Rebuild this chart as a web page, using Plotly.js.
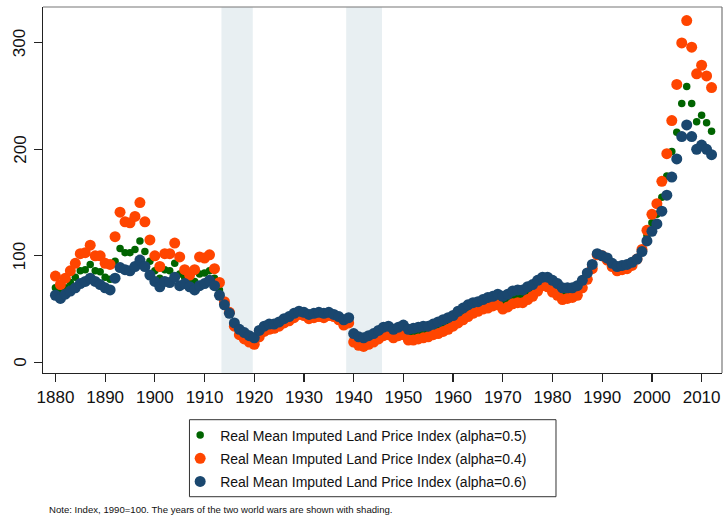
<!DOCTYPE html>
<html>
<head>
<meta charset="utf-8">
<script src="https://cdn.plot.ly/plotly-3.0.1.min.js"></script>
<style>html,body{margin:0;padding:0;background:#fff;}#chart{width:725px;height:520px;}</style>
</head>
<body>
<div id="chart"></div>
<script>
var firstYear = 1880;
var lastYear = 2012;
var years = [];
for (var yr = firstYear; yr <= lastYear; yr++) years.push(yr);

var seriesNames = [
  "Real Mean Imputed Land Price Index (alpha=0.5)",
  "Real Mean Imputed Land Price Index (alpha=0.4)",
  "Real Mean Imputed Land Price Index (alpha=0.6)"
];

// alpha = 0.5 (green)
var alpha05 = [
  70,66,70,75,80,86,87,92,86,85, 80,78,95,107,103,103,106,114,104,95,
  86,79,87,86,93,83,80,76,76,83, 84,86,79,68,56,46,36,29,25,22,
  20,27,31,33,34,36,39,41,44,47, 46,43,44,45,44,45,44,41,38,40,
  23,20,19,21,23,26,29,30,27,29, 30,26,26,27,28,29,31,32,35,37,
  39,43,46,49,51,53,55,56,58,59, 56,58,61,62,62,65,68,72,76,76,
  72,69,65,65,66,68,74,81,90,102, 100,97,92,88,89,90,93,97,105,119,
  131,139,155,175,198,216,243,259,243,226, 232,225,217
];

// alpha = 0.4 (orange)
var alpha04 = [
  81,73,79,86,93,102,103,110,100,100, 93,92,118,141,132,131,137,150,132,115,
  100,90,102,102,112,99,87,82,87,99, 98,101,88,75,57,47,34,26,22,19,
  17,24,29,31,32,34,37,39,42,45, 44,41,42,43,42,44,43,40,35,37,
  19,16,15,17,19,22,25,26,23,25, 26,21,21,22,23,24,26,27,29,31,
  34,37,40,43,46,48,50,51,53,54, 50,52,55,56,56,59,62,67,72,71,
  66,63,59,60,61,63,70,78,88,101, 100,96,90,86,87,88,91,97,106,124,
  139,149,170,196,227,261,300,321,296,271, 279,269,258
];

// alpha = 0.6 (navy)
var alpha06 = [
  63,60,64,67,70,74,76,79,76,73, 70,68,79,89,87,86,90,96,90,82,
  76,71,76,75,80,72,74,71,68,72, 74,77,72,63,54,46,37,31,28,25,
  23,30,34,36,36,38,41,43,46,48, 47,45,46,47,46,47,45,43,40,42,
  27,24,23,25,27,30,33,34,31,33, 35,31,32,33,34,34,36,38,40,42,
  44,48,51,54,56,57,59,61,62,64, 62,64,67,68,68,71,73,77,80,80,
  77,74,70,70,70,72,77,84,92,102, 100,98,93,90,91,92,94,97,104,114,
  123,130,142,157,174,191,212,223,212,200, 204,200,195
];

var warStart = [1913.4, 1938.5];
var warEnd = [1919.7, 1945.7];

var yTicks = [0, 100, 200, 300];
var yTickLabels = ["0", "100", "200", "300"];
var xTicks = [1880,1890,1900,1910,1920,1930,1940,1950,1960,1970,1980,1990,2000,2010];

var noteText = "Note: Index, 1990=100. The years of the two world wars are shown with shading.";

var colors = ["#006400", "#ff4500", "#1a476f"];
var sizes = [7.5, 11, 11];
var data = [alpha05, alpha04, alpha06].map(function (vals, i) {
  return {
    type: "scatter",
    mode: "markers",
    x: years,
    y: vals,
    name: seriesNames[i],
    legendgroup: "g" + i,
    marker: {color: colors[i], size: sizes[i], line: {width: 0}},
    hoverinfo: "x+y"
  };
});

var shapes = [];
for (var i = 0; i < warStart.length; i++) {
  shapes.push({type: "rect", xref: "x", yref: "paper", x0: warStart[i], x1: warEnd[i], y0: 0, y1: 1,
    fillcolor: "#e8eff2", line: {width: 0}, layer: "below"});
}
// top and right frame lines
shapes.push({type: "line", xref: "paper", yref: "paper", x0: 0, x1: 1, y0: 1, y1: 1, line: {color: "#777", width: 1.2}, layer: "above"});
shapes.push({type: "line", xref: "paper", yref: "paper", x0: 1, x1: 1, y0: 0, y1: 1, line: {color: "#777", width: 1.2}, layer: "above"});
// legend frame
shapes.push({type: "rect", xref: "paper", yref: "paper", x0: 0.2157, x1: 0.7555, y0: -0.1276, y1: -0.3380,
  line: {color: "#333", width: 1}, fillcolor: "rgba(0,0,0,0)", layer: "above"});

var font = "Liberation Sans, Arial, Helvetica, sans-serif";

var annotations = [{
  text: noteText, xref: "paper", yref: "paper", x: 0.0063, y: -0.3716,
  xanchor: "left", yanchor: "middle", showarrow: false,
  font: {size: 9.6, family: font, color: "#111"}
}];
// rotated y tick labels (read bottom to top)
yTicks.forEach(function (v, k) {
  annotations.push({
    text: yTickLabels[k], xref: "paper", yref: "y", x: -0.0334, y: v,
    xanchor: "center", yanchor: "middle", showarrow: false, textangle: -90,
    font: {size: 17, family: font, color: "#111"}
  });
});

var layout = {
  width: 725, height: 520,
  margin: {l: 43, r: 3, t: 7, b: 147, pad: 0},
  paper_bgcolor: "#fff", plot_bgcolor: "#fff",
  font: {family: font, color: "#000"},
  showlegend: true,
  xaxis: {
    range: [1877.5, 2014.1], tickmode: "array", tickvals: xTicks,
    ticks: "outside", ticklen: 8, tickwidth: 1.2, tickcolor: "#222",
    showline: true, linecolor: "#222", linewidth: 1.4,
    showgrid: false, zeroline: false,
    tickfont: {size: 17, family: font, color: "#111"}
  },
  yaxis: {
    range: [-10, 333.7], tickmode: "array", tickvals: yTicks,
    ticks: "outside", ticklen: 8, tickwidth: 1.2, tickcolor: "#222",
    showline: true, linecolor: "#222", linewidth: 1.4,
    showgrid: false, zeroline: false, showticklabels: false
  },
  legend: {
    x: 0.202, y: -0.127, xanchor: "left", yanchor: "top",
    bgcolor: "rgba(0,0,0,0)", borderwidth: 0,
    font: {size: 14, family: font, color: "#111"},
    traceorder: "grouped", tracegroupgap: 2, itemwidth: 30
  },
  shapes: shapes,
  annotations: annotations
};

Plotly.newPlot("chart", data, layout, {displayModeBar: false, staticPlot: true});
</script>
</body>
</html>
